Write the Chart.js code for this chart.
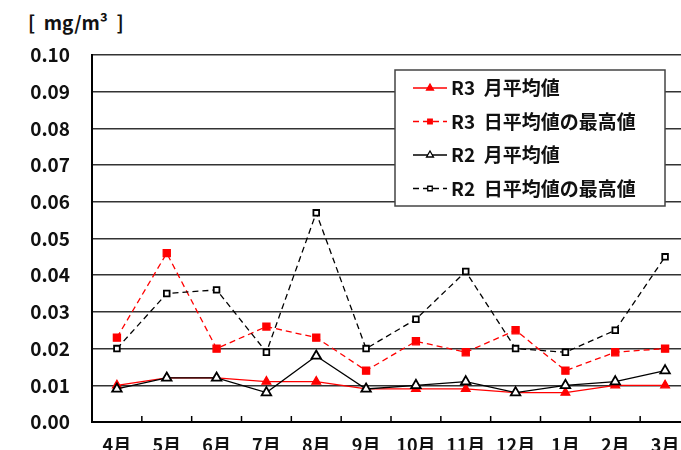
<!DOCTYPE html>
<html>
<head>
<meta charset="utf-8">
<script src="https://cdn.jsdelivr.net/npm/chart.js@4/dist/chart.umd.min.js"></script>
<style>
  body { margin: 0; overflow: hidden; background: #fff; width: 681px; height: 450px; }
  #wrap { position: absolute; left: 0; top: 0; width: 700px; height: 470px; }
  #unit { position: absolute; left: 28px; top: 8px; font: bold 19px "Noto Sans CJK JP", sans-serif; color: #111; white-space: pre; }
</style>
</head>
<body>
<div id="unit">[  mg/m³  ]</div>
<div id="wrap"><canvas id="myChart"></canvas></div>
<script>
// =============================================================================
// DATA
// =============================================================================
const months = ['4月', '5月', '6月', '7月', '8月', '9月', '10月', '11月', '12月', '1月', '2月', '3月'];
const r3MonthAvg = [0.010, 0.012, 0.012, 0.011, 0.011, 0.009, 0.009, 0.009, 0.008, 0.008, 0.010, 0.010];
const r3DailyMax = [0.023, 0.046, 0.020, 0.026, 0.023, 0.014, 0.022, 0.019, 0.025, 0.014, 0.019, 0.020];
const r2MonthAvg = [0.009, 0.012, 0.012, 0.008, 0.018, 0.009, 0.010, 0.011, 0.008, 0.010, 0.011, 0.014];
const r2DailyMax = [0.020, 0.035, 0.036, 0.019, 0.057, 0.020, 0.028, 0.041, 0.020, 0.019, 0.025, 0.045];
const seriesLabels = ['R3  月平均値', 'R3  日平均値の最高値', 'R2  月平均値', 'R2  日平均値の最高値'];

const FONT = '"Noto Sans CJK JP", sans-serif';
const RED = '#ff0000';
const BLACK = '#000000';
const DASH = [6, 4];

// small tick marks pointing up from the x axis, between categories
const innerTicks = {
  id: 'innerTicks',
  afterDatasetsDraw(chart) {
    const { ctx, scales: { x, y } } = chart;
    const bottom = y.getPixelForValue(0);
    ctx.save();
    ctx.strokeStyle = '#000';
    ctx.lineWidth = 1.5;
    for (let i = 0; i < months.length - 1; i++) {
      const px = (x.getPixelForTick(i) + x.getPixelForTick(i + 1)) / 2;
      ctx.beginPath();
      ctx.moveTo(px, bottom);
      ctx.lineTo(px, bottom - 6);
      ctx.stroke();
    }
    ctx.restore();
  }
};

// boxed legend inside the plot
const boxLegend = {
  id: 'boxLegend',
  afterDraw(chart) {
    const { ctx } = chart;
    const left = 395, top = 70, w = 270, h = 136, rowH = 33.5;
    ctx.save();
    ctx.fillStyle = '#fff';
    ctx.fillRect(left, top, w, h);
    ctx.strokeStyle = '#444';
    ctx.lineWidth = 1.5;
    ctx.strokeRect(left, top, w, h);
    chart.data.datasets.forEach((ds, i) => {
      const cy = top + 18 + i * rowH;
      ctx.strokeStyle = ds.borderColor;
      ctx.lineWidth = 1.3;
      ctx.setLineDash(ds.borderDash || []);
      ctx.beginPath();
      ctx.moveTo(413, cy);
      ctx.lineTo(447, cy);
      ctx.stroke();
      ctx.setLineDash([]);
      ctx.fillStyle = ds.pointBackgroundColor;
      ctx.strokeStyle = ds.pointBorderColor;
      Chart.helpers.drawPoint(ctx, {
        pointStyle: ds.pointStyle, radius: ds.pointStyle === 'triangle' ? 4 : 3.2,
        rotation: 0, borderWidth: 1.3
      }, 430, cy);
      ctx.fillStyle = '#111';
      ctx.font = 'bold 19px ' + FONT;
      ctx.textBaseline = 'middle';
      ctx.fillText(ds.label, 451, cy);
    });
    ctx.restore();
  }
};

const ctx = document.getElementById('myChart').getContext('2d');
new Chart(ctx, {
  type: 'line',
  data: {
    labels: months,
    datasets: [
      { label: seriesLabels[0], data: r3MonthAvg, borderColor: RED, borderWidth: 1.3,
        pointStyle: 'triangle', pointRadius: 5, pointBackgroundColor: RED, pointBorderColor: RED, order: 1 },
      { label: seriesLabels[1], data: r3DailyMax, borderColor: RED, borderWidth: 1.3, borderDash: DASH,
        pointStyle: 'rect', pointRadius: 5, pointBackgroundColor: RED, pointBorderColor: RED, order: 1 },
      { label: seriesLabels[2], data: r2MonthAvg, borderColor: BLACK, borderWidth: 1.3,
        pointStyle: 'triangle', pointRadius: 5.5, pointBackgroundColor: '#fff', pointBorderColor: BLACK, pointBorderWidth: 1.8, order: 0 },
      { label: seriesLabels[3], data: r2DailyMax, borderColor: BLACK, borderWidth: 1.3, borderDash: DASH,
        pointStyle: 'rect', pointRadius: 4, pointBackgroundColor: '#fff', pointBorderColor: BLACK, pointBorderWidth: 1.8, order: 0 }
    ]
  },
  options: {
    responsive: true,
    maintainAspectRatio: false,
    animation: false,
    layout: { padding: { top: 55, right: 10, left: 0, bottom: 0 } },
    scales: {
      x: {
        offset: true,
        grid: { display: false, drawTicks: false },
        border: { color: '#000', width: 2 },
        ticks: { color: '#111', font: { family: FONT, size: 18, weight: 'bold' }, padding: 12, maxRotation: 0, autoSkip: false },
        afterFit: (scale) => { scale.height = 48; }
      },
      y: {
        min: 0,
        max: 0.1,
        grid: { color: '#333', lineWidth: 1.5, drawTicks: false },
        border: { color: '#000', width: 2 },
        ticks: { stepSize: 0.01, color: '#111', font: { family: FONT, size: 19, weight: 'bold' }, padding: 22,
          callback: (v) => v.toFixed(2) },
        afterFit: (scale) => { scale.width = 92; }
      }
    },
    plugins: {
      legend: { display: false },
      tooltip: { enabled: false }
    }
  },
  plugins: [innerTicks, boxLegend]
});
</script>
</body>
</html>
